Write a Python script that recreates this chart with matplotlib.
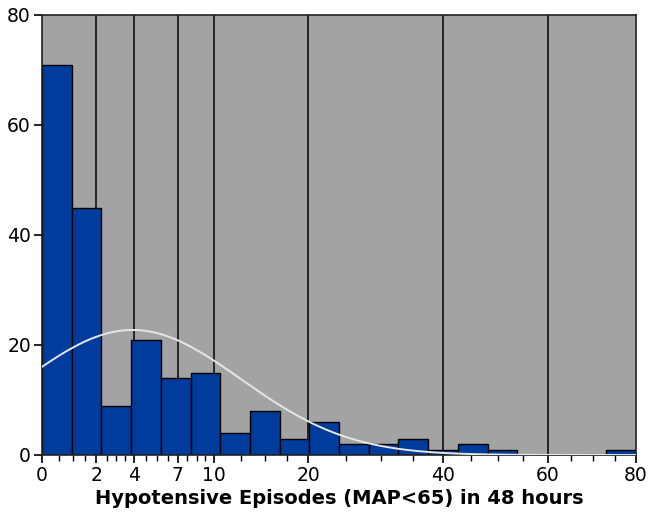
import numpy as np
import matplotlib
matplotlib.use("Agg")
import matplotlib.pyplot as plt
from matplotlib.ticker import FixedLocator

# Histogram bin edges (data units; equal width on sqrt(x+1) axis)
bin_edges = [0, 0.96, 2.24, 3.84, 5.76, 8.0, 10.56, 13.44, 16.64, 20.16, 24.0,
             28.16, 32.64, 37.44, 42.56, 48.0, 53.76, 59.84, 66.24, 72.96, 80]
counts = [71, 45, 9, 21, 14, 15, 4, 8, 3, 6, 2, 2, 3, 1, 2, 1, 0, 0, 0, 1]

major_ticks = [0, 2, 4, 7, 10, 20, 40, 60, 80]
y_ticks = [0, 20, 40, 60, 80]

# Normal fit on transformed scale sqrt(x+1)
fit_mu = 2.22
fit_sigma = 1.46
bin_width_t = 0.4

xlabel = "Hypotensive Episodes (MAP<65) in 48 hours"

def fwd(x):
    return np.sqrt(np.clip(np.asarray(x, dtype=float) + 1, 0, None))

def inv(t):
    return np.asarray(t, dtype=float) ** 2 - 1

plt.rcParams['font.family'] = ['DejaVu Sans']
fig = plt.figure(figsize=(6.48, 5.22), dpi=100)
ax = fig.add_axes([42/648, 67/522, 594/648, 440/522])
ax.set_xscale('function', functions=(fwd, inv))
ax.set_facecolor('#a3a3a3')

for xv in major_ticks[1:-1]:
    ax.axvline(xv, color='black', lw=1.1, zorder=0.5)

lefts = np.array(bin_edges[:-1])
widths = np.diff(bin_edges)
ax.bar(lefts, counts, width=widths, align='edge', color='#003c9c',
       edgecolor='black', linewidth=1.0, zorder=2)

N = sum(counts)
amp = N * bin_width_t / (fit_sigma * np.sqrt(2 * np.pi))
t = np.linspace(1, 9, 400)
xs = inv(t)
ys = amp * np.exp(-0.5 * ((t - fit_mu) / fit_sigma) ** 2)
ax.plot(xs, ys, color='#e6e6e6', lw=1.4, zorder=3)

ax.set_xlim(0, 80)
ax.set_ylim(0, 80)
ax.xaxis.set_major_locator(FixedLocator(major_ticks))
minors = []
for a, b in zip(major_ticks[:-1], major_ticks[1:]):
    for k in (1, 2, 3):
        minors.append(a + (b - a) * k / 4)
ax.xaxis.set_minor_locator(FixedLocator(minors))
ax.set_xticklabels([str(v) for v in major_ticks])
ax.yaxis.set_major_locator(FixedLocator(y_ticks))
ax.set_yticklabels([str(v) for v in y_ticks])

ax.tick_params(axis='both', which='major', length=6, width=1.2, labelsize=13.5,
               colors='black', pad=2)
ax.tick_params(axis='x', which='minor', length=4, width=1.0)
for s in ax.spines.values():
    s.set_linewidth(1.2)
    s.set_color('#222222')

ax.set_xlabel(xlabel, fontsize=14, fontweight='bold', labelpad=3)

fig.savefig('out.png', dpi=100)
